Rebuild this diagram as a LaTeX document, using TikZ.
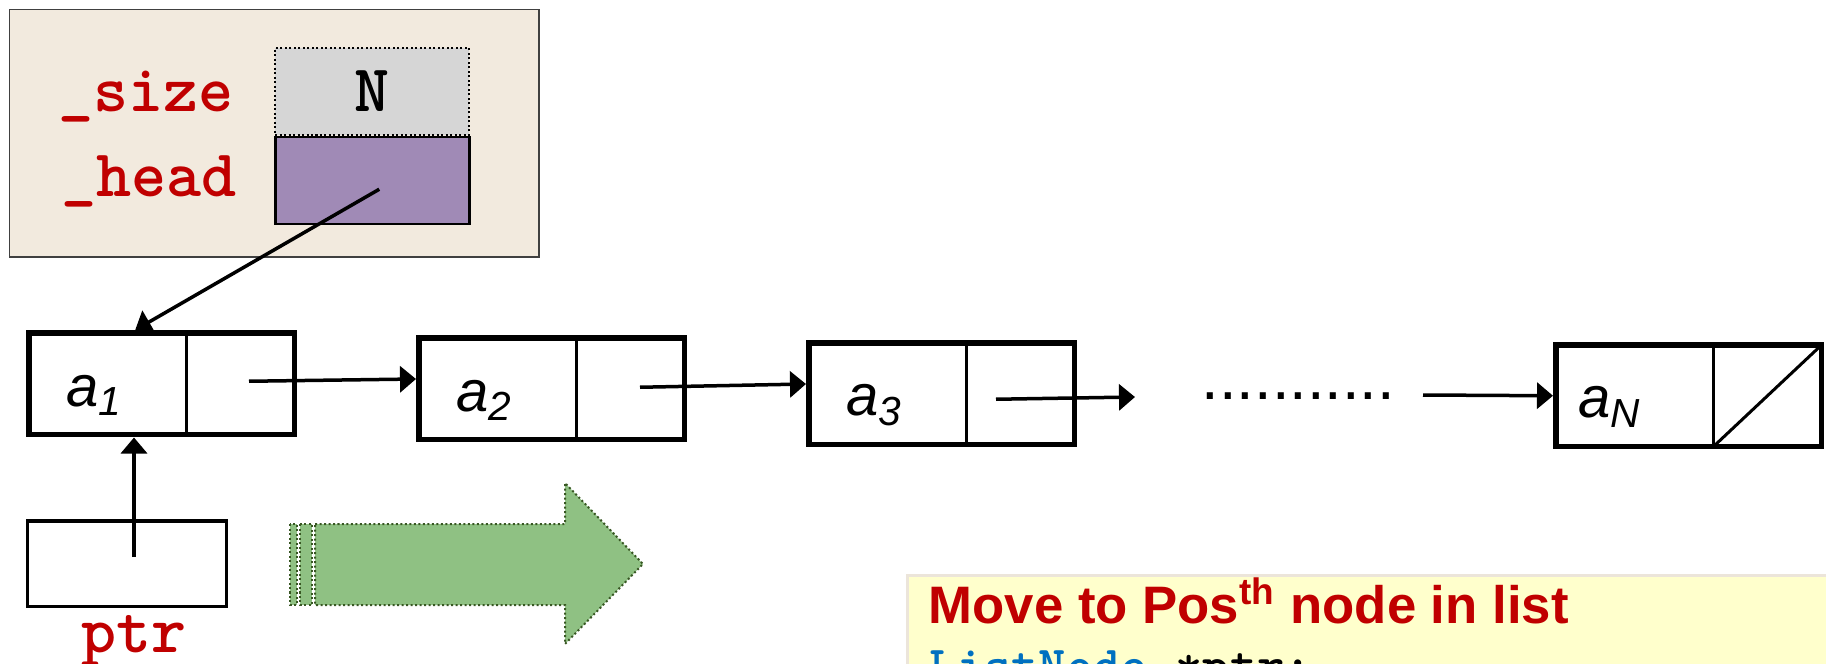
\documentclass[tikz,border=0pt]{standalone}
\usepackage{fontspec}
\setsansfont{Liberation Sans}
\usetikzlibrary{calc,arrows.meta}

\definecolor{codered}{RGB}{192,0,0}
\definecolor{codeblue}{RGB}{0,112,192}
\definecolor{panel}{RGB}{242,234,222}
\definecolor{sizefill}{RGB}{214,214,214}
\definecolor{headfill}{RGB}{160,138,182}
\definecolor{movegreen}{RGB}{143,193,131}
\definecolor{moveedge}{RGB}{56,87,35}
\definecolor{notefill}{RGB}{255,255,204}
\definecolor{noteedge}{RGB}{236,229,218}

\begin{document}
\begin{tikzpicture}[
		cell/.style={draw,line width=0.03cm,minimum height=1.015cm,inner sep=0pt,outer sep=0pt,anchor=north west},
		datacell/.style={cell,minimum width=1.575cm},
		linkcell/.style={cell,minimum width=1.08cm},
		frame/.style={line width=0.055cm},
		elem/.style={anchor=base west,inner sep=0pt,font=\sffamily\itshape\fontsize{16.5}{20}\selectfont},
		link/.style={line width=0.035cm,-{Triangle[length=0.16cm,width=0.26cm]}},
		field/.style={anchor=base west,inner sep=0pt,text=codered,font=\ttfamily\bfseries\fontsize{19}{22}\selectfont},
		dotbox/.style={line width=0.02cm,dash pattern=on 0.02cm off 0.025cm}]

	\useasboundingbox (0,0) rectangle (18.26,-6.64);

	% list object with its two fields
	\node[draw=black!75,line width=0.015cm,fill=panel,minimum width=5.29cm,minimum height=2.47cm,anchor=north west] (obj) at (0.09,-0.09) {};
	\node[draw,dotbox,fill=sizefill,minimum width=1.94cm,minimum height=0.87cm,inner sep=0pt,anchor=north west,font=\ttfamily\bfseries\fontsize{19}{22}\selectfont] (size) at (2.74,-0.47) {N};
	\node[draw,line width=0.025cm,fill=headfill,minimum width=1.94cm,minimum height=0.87cm,anchor=north west] (head) at (size.south west) {};
	\node[field] (sizename) at (0.58,-1.11) {\_size};
	\node[field] (headname) at (0.61,-1.96) {\_head};

	% the chain
	\foreach \i/\x/\y/\dx in {1/0.29/-3.33/0.37, 2/4.19/-3.38/0.37, 3/8.09/-3.43/0.37, N/15.56/-3.45/0.22} {
		\node[datacell] (a\i) at (\x,\y) {};
		\node[linkcell] (n\i) at (a\i.north east) {};
		\draw[frame] (a\i.north west) rectangle (n\i.south east);
		\node[elem] (lbl\i) at ($(a\i.north west)+(\dx,-0.73)$) {a\textsubscript{\i}};
	}
	\draw[line width=0.03cm] (nN.south west) -- (nN.north east);

	\draw[link] ($(n1.center)+(0.085,0.025)$) -- ($(a2.north west)+(-0.03,-0.41)$);
	\draw[link] ($(n2.center)+(0.095,0.015)$) -- ($(a3.north west)+(-0.03,-0.41)$);
	\coordinate (gapin) at (11.35,-3.97);
	\draw[link] ($(n3.center)+(-0.245,-0.055)$) -- (gapin);
	\node[anchor=base west,inner sep=0pt,font=\sffamily\fontsize{18}{20}\selectfont] (dots) at (12.01,-3.99) {...........};
	\coordinate (gapout) at (14.23,-3.95);
	\draw[link] (gapout) -- ($(aN.west)+(-0.03,0)$);

	\draw[link] ($(head.center)+(0.07,-0.085)$) -- ($(a1.north west)!0.4!(n1.north east)+(0,0.03)$);

	% ptr
	\node[draw,line width=0.035cm,minimum width=1.985cm,minimum height=0.855cm,outer sep=0pt,anchor=north west] (ptr) at (0.2775,-5.2075) {};
	\node[field,anchor=base] (ptrname) at ($(ptr.south)+(0.07,-0.46)$) {ptr};
	\coordinate (ptrtail) at ($(ptr.center)+(0.07,0.065)$);
	\draw[link] (ptrtail) -- ($(ptrtail |- a1.south)+(0,-0.03)$);

	% move on
	\filldraw[fill=movegreen,draw=moveedge,dotbox] (2.90,-5.24) rectangle (2.97,-6.05);
	\filldraw[fill=movegreen,draw=moveedge,dotbox] (3.00,-5.24) rectangle (3.12,-6.05);
	\filldraw[fill=movegreen,draw=moveedge,dotbox] (3.15,-5.24) -- (5.65,-5.24) -- (5.65,-4.83) -- (6.43,-5.64)
		-- (5.65,-6.44) -- (5.65,-6.05) -- (3.15,-6.05) -- cycle;

	% note
	\node[draw=noteedge,line width=0.03cm,fill=notefill,minimum width=10cm,minimum height=2cm,anchor=north west] (note) at (9.06,-5.74) {};
	\node[anchor=base west,inner sep=0pt,text=codered,font=\sffamily\bfseries\fontsize{15}{18}\selectfont] (notetitle) at (9.28,-6.23) {Move to Pos\textsuperscript{th} node in list};
	\node[anchor=base west,inner sep=0pt,font=\ttfamily\bfseries\fontsize{14.8}{18}\selectfont] (notecode) at (9.29,-6.82) {\textcolor{codeblue}{ListNode} *ptr;};

\end{tikzpicture}
\end{document}
